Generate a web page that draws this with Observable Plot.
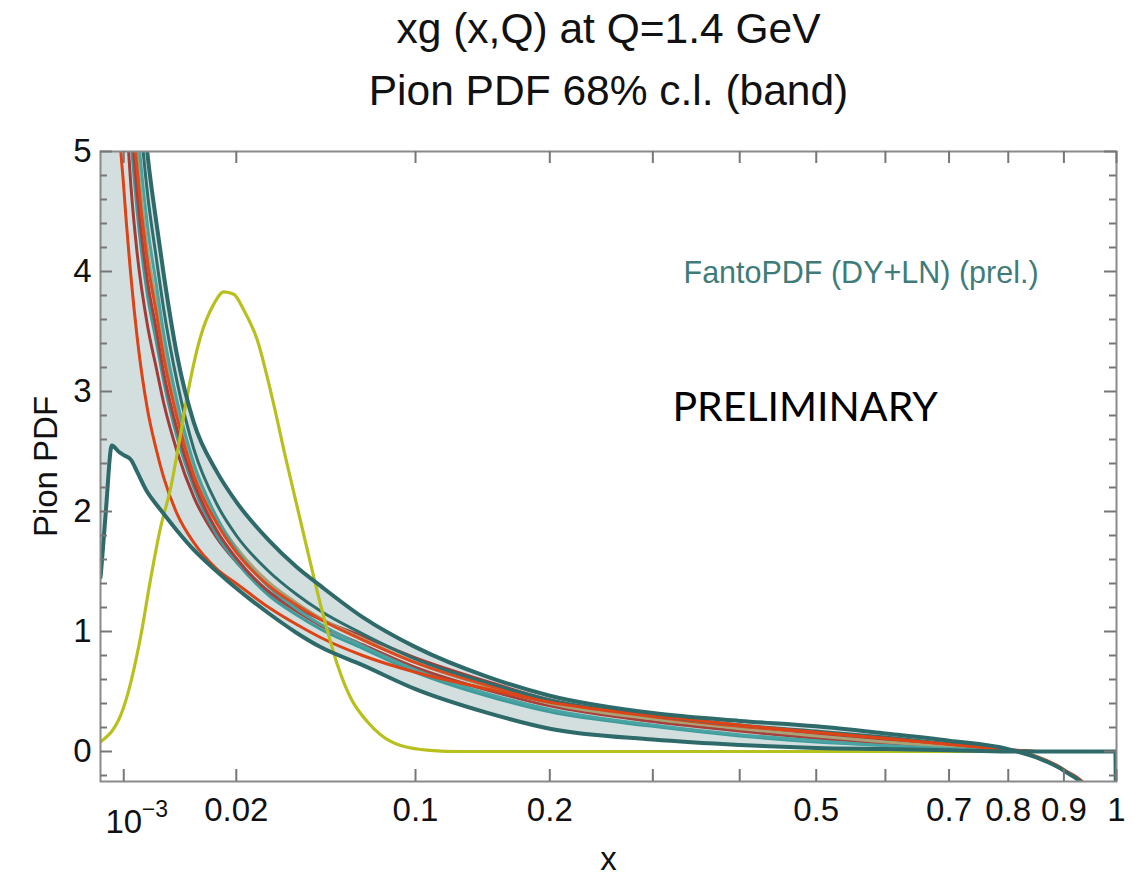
<!DOCTYPE html>
<html><head><meta charset="utf-8">
<script src="https://cdn.jsdelivr.net/npm/d3@7"></script>
<script src="https://cdn.jsdelivr.net/npm/@observablehq/plot@0.6"></script>
<style>
html,body{margin:0;padding:0;background:#fff;}
#chart svg{display:block;}
</style></head><body><div id="chart"></div>
<script>
// shared x grid for the band and the replicas
const xGrid = [0.00008, 0.0001, 0.0002, 0.0004, 0.0007, 0.001, 0.0015, 0.002, 0.003, 0.004, 0.005, 0.007, 0.01, 0.015, 0.02, 0.03, 0.04, 0.05, 0.07, 0.1, 0.15, 0.2, 0.3, 0.4, 0.5, 0.6, 0.7, 0.8, 0.85, 0.9, 0.95, 0.998, 1];
// 68% c.l. band edges
const bandUpper = [14, 13.5, 12, 10.5, 9, 8, 6.9, 6.0, 4.98, 4.42, 3.97, 3.30, 2.74, 2.33, 2.08, 1.76, 1.54, 1.38, 1.12, 0.87, 0.62, 0.465, 0.32, 0.255, 0.21, 0.15, 0.09, 0.02, -0.05, -0.16, -0.36, -0.9, -1.0];
const bandLower = [1.45, 1.55, 2.0, 2.55, 2.50, 2.47, 2.43, 2.33, 2.16, 2.06, 1.98, 1.84, 1.68, 1.50, 1.36, 1.15, 0.99, 0.87, 0.72, 0.52, 0.32, 0.19, 0.10, 0.055, 0.03, 0.02, 0.01, 0, 0, 0, 0, 0, -1.0];
// replicas
const red1 = [14, 13, 11, 8, 5.4, 4.7, 3.95, 3.45, 2.85, 2.52, 2.28, 1.98, 1.74, 1.52, 1.40, 1.20, 1.06, 0.95, 0.80, 0.66, 0.52, 0.41, 0.30, 0.22, 0.16, 0.11, 0.06, 0.015, 0, 0, 0, 0, 0];
const red2 = [14, 13, 11.5, 9.5, 7.6, 6.7, 5.55, 4.85, 4.08, 3.66, 3.28, 2.78, 2.30, 1.90, 1.66, 1.38, 1.22, 1.10, 0.93, 0.74, 0.55, 0.42, 0.29, 0.21, 0.16, 0.11, 0.06, 0.01, -0.04, -0.15, -0.34, -0.9, -1.0];
const brown1 = [14, 12.5, 10.5, 8.2, 6.5, 5.7, 4.7, 4.15, 3.55, 3.2, 2.9, 2.5, 2.12, 1.78, 1.58, 1.33, 1.20, 1.10, 0.96, 0.78, 0.58, 0.43, 0.29, 0.20, 0.14, 0.09, 0.05, 0.01, 0, 0, 0, 0, 0];
const brown2 = [14, 13, 11, 9.2, 7.3, 6.4, 5.3, 4.65, 3.92, 3.52, 3.15, 2.68, 2.24, 1.84, 1.61, 1.33, 1.17, 1.05, 0.89, 0.70, 0.51, 0.38, 0.25, 0.17, 0.11, 0.07, 0.035, 0.01, 0, 0, 0, 0, 0];
const tealMid1 = [14, 12.8, 10.8, 8.8, 7.0, 6.1, 5.1, 4.5, 3.8, 3.42, 3.08, 2.62, 2.20, 1.80, 1.58, 1.30, 1.14, 1.02, 0.86, 0.66, 0.46, 0.33, 0.21, 0.13, 0.08, 0.05, 0.02, 0.005, 0, 0, 0, 0, 0];
const tealMid2 = [14, 13.5, 12, 10, 8.1, 7.2, 6.0, 5.25, 4.38, 3.9, 3.48, 2.92, 2.40, 1.95, 1.68, 1.37, 1.19, 1.06, 0.88, 0.68, 0.48, 0.35, 0.22, 0.14, 0.09, 0.05, 0.025, 0.005, 0, 0, 0, 0, 0];
const tealDark = [14, 13.5, 12.2, 10.3, 8.5, 7.6, 6.4, 5.6, 4.65, 4.12, 3.68, 3.08, 2.52, 2.06, 1.80, 1.50, 1.31, 1.17, 0.98, 0.77, 0.57, 0.43, 0.30, 0.22, 0.17, 0.12, 0.065, 0.015, 0, 0, 0, 0, 0];
const olive = [14, 13.2, 11.8, 9.8, 7.8, 6.9, 5.7, 4.98, 4.18, 3.75, 3.36, 2.84, 2.36, 1.94, 1.70, 1.41, 1.24, 1.11, 0.94, 0.74, 0.54, 0.40, 0.27, 0.19, 0.13, 0.08, 0.04, 0.01, 0, 0, 0, 0, 0];
// yellow-green curve
const yellowX = [0.000079, 0.001, 0.0023, 0.0033, 0.0045, 0.006, 0.0076, 0.0087, 0.0113, 0.0143, 0.0167, 0.0193, 0.0221, 0.0262, 0.0311, 0.0359, 0.0429, 0.0514, 0.0575, 0.0639, 0.0724, 0.0796, 0.091, 0.109, 0.13, 0.2, 1];
const yellowY = [0.08, 0.37, 0.95, 1.42, 1.85, 2.2, 2.65, 2.95, 3.45, 3.73, 3.83, 3.81, 3.68, 3.43, 2.95, 2.45, 1.81, 1.12, 0.73, 0.45, 0.25, 0.14, 0.05, 0.01, 0, 0, 0];
// ticks
const xTickValues = [0.001, 0.02, 0.1, 0.2, 0.3, 0.4, 0.5, 0.6, 0.7, 0.8, 0.9, 1];
const xTickLabels = ["10", "0.02", "0.1", "0.2", "", "", "0.5", "", "0.7", "0.8", "0.9", "1"];
const xTickExponent = "\u22123";
const yMajorTicks = [0, 1, 2, 3, 4, 5];
const yMinorTicks = [-0.2, 0.2, 0.4, 0.6, 0.8, 1.2, 1.4, 1.6, 1.8, 2.2, 2.4, 2.6, 2.8, 3.2, 3.4, 3.6, 3.8, 4.2, 4.4, 4.6, 4.8];
const titleLines = ["xg (x,Q) at Q=1.4 GeV", "Pion PDF 68% c.l. (band)"];

const FONT = '"Liberation Sans", Arial, Helvetica, sans-serif';
const W = 1141, H = 877, ML = 100, MR = 25, MT = 151, MB = 96;
const FW = W - ML - MR, FH = H - MT - MB;

const band = xGrid.map((x, i) => ({x, lo: bandLower[i], hi: bandUpper[i]}));
const series = (vals) => xGrid.map((x, i) => ({x, y: vals[i]}));
const yellow = yellowX.map((x, i) => ({x, y: yellowY[i]}));

const replicaStyles = [
  {vals: brown1, stroke: "#a33b38"},
  {vals: tealMid1, stroke: "#3f9b9b"},
  {vals: brown2, stroke: "#a5413c"},
  {vals: olive, stroke: "#a8a277"},
  {vals: tealMid2, stroke: "#4aa3a3"},
  {vals: red2, stroke: "#de4a1e"},
  {vals: tealDark, stroke: "#2f6d6c"},
  {vals: red1, stroke: "#dc4316"}
];

const lineOpts = {x: "x", y: "y", curve: "monotone-x", clip: true};
const firstTick = xTickValues.slice(0, 1);

const plot = Plot.plot({
  width: W, height: H,
  marginLeft: ML, marginRight: MR, marginTop: MT, marginBottom: MB,
  style: {fontFamily: FONT, background: "#fff", color: "#111"},
  x: {type: "pow", exponent: 0.5, domain: [0.00008, 1]},
  y: {domain: [-0.25, 5]},
  marks: [
    Plot.areaY(band, {x: "x", y1: "lo", y2: d => Math.max(d.lo, d.hi), fill: "#d3dfdf", curve: "monotone-x", clip: true}),
    ...replicaStyles.map(r => Plot.line(series(r.vals), {...lineOpts, stroke: r.stroke, strokeWidth: 3})),
    Plot.line(yellow, {...lineOpts, stroke: "#b8c01e", strokeWidth: 3.2}),
    Plot.line(series(bandUpper), {...lineOpts, stroke: "#2e6a6a", strokeWidth: 4}),
    Plot.line(series(bandLower), {...lineOpts, stroke: "#2e6a6a", strokeWidth: 4}),
    Plot.frame({stroke: "#8a8a8a", strokeWidth: 2}),
    // inward ticks
    Plot.ruleX(xTickValues, {x: d => d, insetTop: FH - 12, stroke: "#777", strokeWidth: 2}),
    Plot.ruleX(xTickValues, {x: d => d, insetBottom: FH - 12, stroke: "#777", strokeWidth: 2}),
    Plot.ruleY(yMajorTicks, {y: d => d, insetRight: FW - 12, stroke: "#777", strokeWidth: 2}),
    Plot.ruleY(yMajorTicks, {y: d => d, insetLeft: FW - 12, stroke: "#777", strokeWidth: 2}),
    Plot.ruleY(yMinorTicks, {y: d => d, insetRight: FW - 7, stroke: "#777", strokeWidth: 2}),
    Plot.ruleY(yMinorTicks, {y: d => d, insetLeft: FW - 7, stroke: "#777", strokeWidth: 2}),
    // tick labels
    Plot.axisX(xTickValues.slice(1), {tickSize: 0, tickPadding: 16, label: null, fontSize: 33, fill: "#111",
      tickFormat: d => xTickLabels[xTickValues.indexOf(d)]}),
    Plot.text(firstTick, {x: d => d, frameAnchor: "bottom", dy: 51, lineAnchor: "bottom", fontSize: 33, fill: "#111",
      text: d => xTickLabels[xTickValues.indexOf(d)]}),
    Plot.text(firstTick, {x: d => d, frameAnchor: "bottom", dx: 18, dy: 35, lineAnchor: "bottom", textAnchor: "start", fontSize: 23, fill: "#111",
      text: () => xTickExponent}),
    Plot.axisY(yMajorTicks, {tickSize: 0, tickPadding: 9, label: null, fontSize: 33, fill: "#111", tickFormat: d => String(d)}),
    // axis titles
    Plot.text(["x"], {frameAnchor: "bottom", dy: 88, lineAnchor: "bottom", fontSize: 33, fill: "#111"}),
    Plot.text(["Pion PDF"], {frameAnchor: "left", dx: -54, rotate: -90, textAnchor: "middle", lineAnchor: "middle", fontSize: 33, fill: "#111"}),
    // title
    Plot.text([titleLines[0]], {frameAnchor: "top", dy: 42 - MT, lineAnchor: "bottom", fontSize: 42.5, fill: "#111"}),
    Plot.text([titleLines[1]], {frameAnchor: "top", dy: 104 - MT, lineAnchor: "bottom", fontSize: 42.5, fill: "#111"}),
    // annotations
    Plot.text(["FantoPDF (DY+LN) (prel.)"], {frameAnchor: "top-left", dx: 583, dy: 131, lineAnchor: "bottom", textAnchor: "start", fontSize: 30.5, fill: "#3f7c79"}),
    Plot.text(["PRELIMINARY"], {frameAnchor: "top-left", dx: 572, dy: 269, lineAnchor: "bottom", textAnchor: "start", fontSize: 41, fill: "#000", fontFamily: "Lato, 'Open Sans', sans-serif"})
  ]
});
document.getElementById("chart").appendChild(plot);
</script>
</body></html>
